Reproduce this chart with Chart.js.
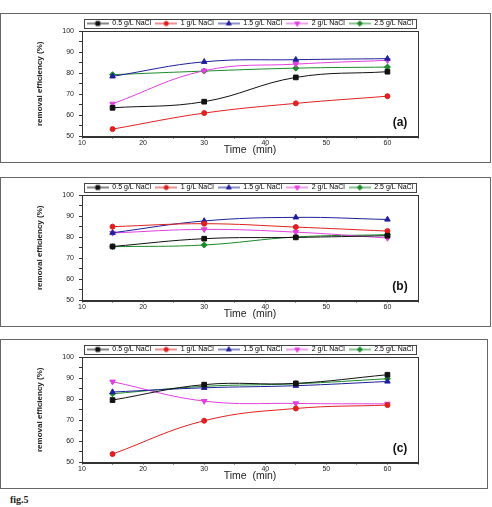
<!DOCTYPE html>
<html>
<head>
<meta charset="utf-8">
<script src="https://cdn.jsdelivr.net/npm/chart.js@4.4.1/dist/chart.umd.min.js"></script>
<style>
  html, body { margin: 0; padding: 0; background: #fff; width: 492px; height: 507px; overflow: hidden; }
  .panel { position: absolute; left: 0; width: 489px; height: 148px; border: 1px solid #666; background: #fff; }
  .panel canvas { display: block; }
  #fig { position: absolute; left: 10px; top: 494px; font-family: "Liberation Serif", serif; font-weight: bold; font-size: 10px; color: #222; }
</style>
</head>
<body>
<div class="panel" id="pa" style="top:13px"><canvas id="ca" width="489" height="148"></canvas></div>
<div class="panel" id="pb" style="top:177px"><canvas id="cb" width="489" height="148"></canvas></div>
<div class="panel" id="pc" style="top:339px; width:486px"><canvas id="cc" width="486" height="148"></canvas></div>
<div id="fig">fig.5</div>
<script>
// ---- data ----
const timeMin = [15, 30, 45, 60];
const seriesLabels = ['0.5 g/L NaCl', '1 g/L NaCl', '1.5 g/L NaCl', '2 g/L NaCl', '2.5 g/L NaCl'];
const xTickLabels = ['10', '20', '30', '40', '50', '60'];
const yTickLabels = ['50', '60', '70', '80', '90', '100'];

// panel (a)
const a05 = [63.6, 66.5, 78.0, 80.7];
const a1  = [53.5, 61.1, 65.7, 69.1];
const a15 = [78.5, 85.4, 86.4, 86.9];
const a2  = [65.5, 81.2, 84.3, 86.1];
const a25 = [79.3, 81.0, 82.4, 82.9];
// panel (b)
const b05 = [75.6, 79.3, 79.9, 80.7];
const b1  = [85.0, 86.4, 84.8, 82.9];
const b15 = [82.1, 87.7, 89.4, 88.4];
const b2  = [82.0, 83.7, 82.4, 79.6];
const b25 = [75.5, 76.3, 80.1, 81.2];
// panel (c)
const c05 = [79.6, 86.9, 87.5, 91.6];
const c1  = [54.0, 69.8, 75.6, 77.2];
const c15 = [83.4, 85.4, 86.4, 88.4];
const c2  = [88.3, 79.1, 78.0, 77.8];
const c25 = [82.6, 86.1, 87.3, 89.7];

// ---- styles ----
const colors = ['#111111', '#e02020', '#1f1f9a', '#e040e0', '#1a8a2a'];
const styles = ['rect', 'circle', 'triangle', 'triangle', 'rectRot'];
const rotations = [0, 0, 0, 180, 0];
const radii = [3.3, 2.5, 3.2, 3.2, 3.0];

function markerCanvas(i) {
  const c = document.createElement('canvas');
  c.width = 22; c.height = 8;
  const ctx = c.getContext('2d');
  ctx.strokeStyle = colors[i];
  ctx.lineWidth = 1;
  ctx.beginPath(); ctx.moveTo(0, 4); ctx.lineTo(22, 4); ctx.stroke();
  ctx.fillStyle = colors[i];
  Chart.helpers.drawPoint(ctx, {pointStyle: styles[i], rotation: rotations[i], radius: radii[i] * 0.85, borderWidth: 1}, 11, 4);
  ctx.fill();
  return c;
}

const frameAndLabel = {
  id: 'frameAndLabel',
  afterDraw(chart, args, opts) {
    const ctx = chart.ctx, a = chart.chartArea;
    ctx.save();
    ctx.strokeStyle = '#333';
    ctx.lineWidth = 1;
    ctx.strokeRect(Math.round(a.left) + 0.5, Math.round(a.top) + 0.5, Math.round(a.right - a.left), Math.round(a.bottom - a.top));
    ctx.fillStyle = '#111';
    ctx.font = 'bold 12px "Liberation Sans", Arial, sans-serif';
    ctx.textAlign = 'center';
    ctx.textBaseline = 'middle';
    ctx.fillText(opts.text, a.right - 18, a.bottom - 14);
    // legend border
    const lg = chart.legend;
    if (lg && lg.legendHitBoxes && lg.legendHitBoxes.length) {
      const hb = lg.legendHitBoxes;
      let l = Infinity, r = -Infinity, t = Infinity, b = -Infinity;
      hb.forEach(h => { l = Math.min(l, h.left); r = Math.max(r, h.left + h.width); t = Math.min(t, h.top); b = Math.max(b, h.top + h.height); });
      ctx.strokeStyle = '#444';
      ctx.strokeRect(Math.round(l - 3) + 0.5, Math.round(t - 1) + 0.5, Math.round(r - l + 6), Math.round(b - t + 2));
    }
    ctx.restore();
  }
};

function makeChart(canvasId, values, tag, rightPad) {
  const datasets = values.map((vals, i) => ({
    label: seriesLabels[i],
    data: timeMin.map((t, k) => ({x: t, y: vals[k]})),
    borderColor: colors[i],
    backgroundColor: colors[i],
    borderWidth: 1,
    pointStyle: styles[i],
    rotation: rotations[i],
    pointRadius: radii[i],
    pointBorderWidth: 1,
    tension: 0.4,
    fill: false
  }));
  return new Chart(document.getElementById(canvasId), {
    type: 'line',
    data: {datasets},
    plugins: [frameAndLabel],
    options: {
      responsive: false,
      animation: false,
      devicePixelRatio: 1,
      layout: {padding: {left: 34, right: rightPad, top: 2, bottom: 5.5}},
      plugins: {
        tooltip: {enabled: false},
        frameAndLabel: {text: tag},
        legend: {
          display: true,
          position: 'top',
          fullSize: false,
          maxHeight: 15,
          labels: {
            color: '#222',
            font: {family: '"Liberation Sans", Arial, sans-serif', size: 7},
            usePointStyle: true,
            pointStyleWidth: 22,
            boxHeight: 7,
            padding: 4,
            generateLabels: (chart) => chart.data.datasets.map((d, i) => ({
              text: d.label,
              pointStyle: markerCanvas(i),
              fillStyle: colors[i],
              strokeStyle: colors[i],
              lineWidth: 0,
              hidden: false,
              datasetIndex: i
            }))
          }
        }
      },
      scales: {
        x: {
          type: 'linear',
          min: 10, max: 65,
          afterFit: (s) => { s.height = 20; },
          grid: {drawOnChartArea: false, drawTicks: true, tickLength: 2, color: '#333'},
          border: {color: '#333', width: 1},
          ticks: {
            stepSize: 5,
            padding: 0,
            maxRotation: 0,
            autoSkip: false,
            color: '#222',
            font: {family: '"Liberation Sans", Arial, sans-serif', size: 7},
            callback: (v) => { const i = xTickLabels.indexOf(String(v)); return i >= 0 ? xTickLabels[i] : ''; }
          },
          title: {
            display: true,
            text: 'Time  (min)',
            color: '#222',
            padding: 0,
            font: {family: '"Liberation Sans", Arial, sans-serif', size: 10.5}
          }
        },
        y: {
          min: 50, max: 100,
          afterFit: (s) => { s.width = 47; },
          grid: {drawOnChartArea: false, drawTicks: true, tickLength: 3, color: '#333'},
          border: {color: '#333', width: 1},
          ticks: {
            stepSize: 5,
            padding: 5,
            autoSkip: false,
            color: '#222',
            font: {family: '"Liberation Sans", Arial, sans-serif', size: 7},
            callback: (v) => { const i = yTickLabels.indexOf(String(v)); return i >= 0 ? yTickLabels[i] : ''; }
          },
          title: {
            display: true,
            text: 'removal efficiency (%)',
            color: '#222',
            padding: 0,
            font: {family: '"Liberation Sans", Arial, sans-serif', size: 8, weight: 'bold'}
          }
        }
      }
    }
  });
}

makeChart('ca', [a05, a1, a15, a2, a25], '(a)', 72);
makeChart('cb', [b05, b1, b15, b2, b25], '(b)', 72);
makeChart('cc', [c05, c1, c15, c2, c25], '(c)', 69);
</script>
</body>
</html>
